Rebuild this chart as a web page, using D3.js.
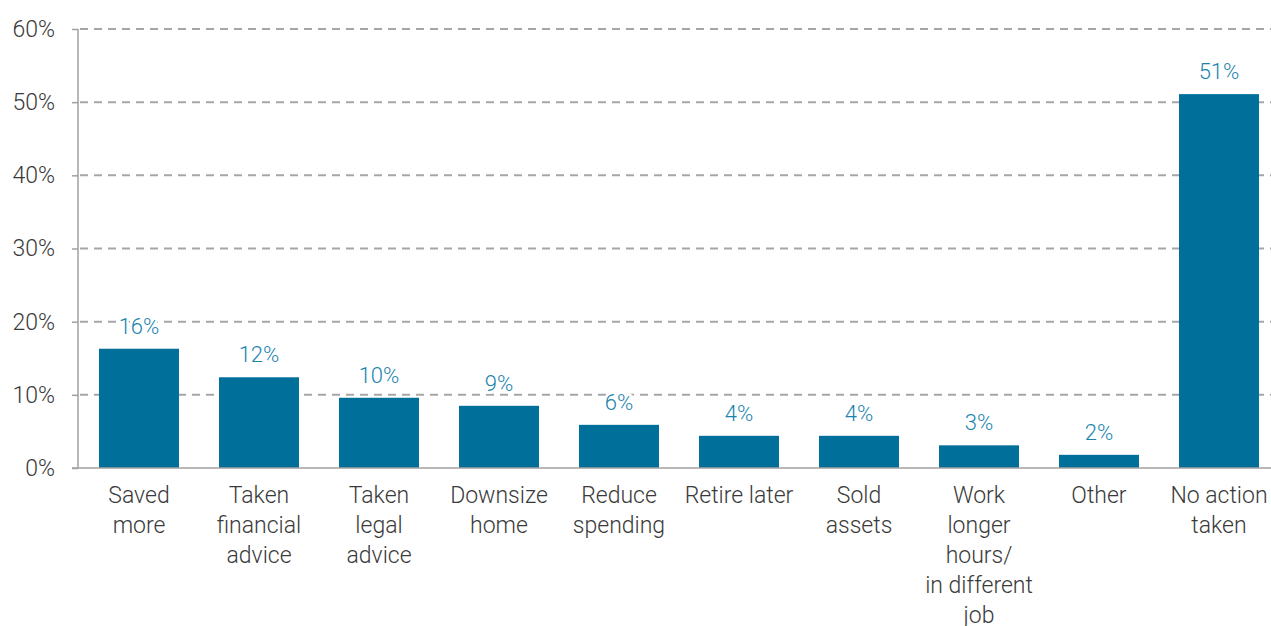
<!DOCTYPE html>
<html>
<head>
<meta charset="utf-8">
<script src="https://cdn.jsdelivr.net/npm/d3@7"></script>
<style>
  html, body { margin: 0; padding: 0; background: #ffffff; }
  svg { display: block; }
  text { font-family: Roboto, "Noto Sans", sans-serif; font-weight: 300; }
</style>
</head>
<body>
<svg id="chart" width="1271" height="626"></svg>
<script>
const categories = [
  ["Saved", "more"],
  ["Taken", "financial", "advice"],
  ["Taken", "legal", "advice"],
  ["Downsize", "home"],
  ["Reduce", "spending"],
  ["Retire later"],
  ["Sold", "assets"],
  ["Work", "longer", "hours/", "in different", "job"],
  ["Other"],
  ["No action", "taken"]
];
const values = [16.3, 12.4, 9.6, 8.5, 5.9, 4.4, 4.4, 3.1, 1.8, 51.1];
const valueLabels = ["16%", "12%", "10%", "9%", "6%", "4%", "4%", "3%", "2%", "51%"];
const yTicks = [0, 10, 20, 30, 40, 50, 60];

const svg = d3.select("#chart");
const mLeft = 78, mRight = 1271, mTop = 29, mBottom = 468;

const x = d3.scaleBand()
  .domain(d3.range(categories.length))
  .range([79, 1279])
  .paddingInner(1/3)
  .paddingOuter(1/6);

const y = d3.scaleLinear().domain([0, 60]).range([mBottom, mTop]);

const yAxis = d3.axisLeft(y)
  .tickValues(yTicks)
  .tickFormat(d => d + "%")
  .tickSize(6)
  .tickPadding(17);

const gy = svg.append("g").attr("transform", `translate(${mLeft},0)`).call(yAxis);
gy.select(".domain").attr("stroke", "#a0a0a0").attr("stroke-width", 1.5)
  .attr("d", `M0,${mTop}V${mBottom}`);
gy.selectAll(".tick line").attr("stroke", "#a0a0a0").attr("stroke-width", 1.5);
gy.selectAll(".tick text")
  .attr("fill", "#3a3a3a")
  .style("font-size", "23px")
  .style("font-family", "Roboto, sans-serif")
  .style("font-weight", 300);

svg.append("g").selectAll("line")
  .data(yTicks.filter(d => d > 0))
  .join("line")
  .attr("x1", mLeft).attr("x2", mRight)
  .attr("y1", d => y(d)).attr("y2", d => y(d))
  .attr("stroke", "#a6a6a6")
  .attr("stroke-width", 2)
  .attr("stroke-dasharray", "8,6")
  .attr("stroke-dashoffset", -2);

svg.append("g").selectAll("rect")
  .data(values)
  .join("rect")
  .attr("x", (d, i) => x(i))
  .attr("width", x.bandwidth())
  .attr("y", d => y(d))
  .attr("height", d => y(0) - y(d))
  .attr("fill", "#00709b");

svg.append("line")
  .attr("x1", mLeft - 6).attr("x2", mRight)
  .attr("y1", y(0)).attr("y2", y(0))
  .attr("stroke", "#a0a0a0").attr("stroke-width", 1.5);

svg.append("g").selectAll("text")
  .data(values)
  .join("text")
  .attr("x", (d, i) => x(i) + x.bandwidth() / 2)
  .attr("y", d => y(d) - 15)
  .attr("text-anchor", "middle")
  .attr("fill", "#1a84ae")
  .attr("stroke", "#ffffff")
  .attr("stroke-width", 5)
  .attr("paint-order", "stroke")
  .style("font-size", "22px")
  .text((d, i) => valueLabels[i]);

const cg = svg.append("g").selectAll("text")
  .data(categories)
  .join("text")
  .attr("text-anchor", "middle")
  .attr("fill", "#3a3a3a")
  .style("font-size", "23px")
  .style("font-family", "Roboto, sans-serif")
  .style("font-weight", 300);
cg.each(function(lines, i) {
  const t = d3.select(this);
  lines.forEach((ln, j) => {
    t.append("tspan")
      .attr("x", x(i) + x.bandwidth() / 2)
      .attr("y", 503 + j * 30)
      .text(ln);
  });
});
</script>
</body>
</html>
